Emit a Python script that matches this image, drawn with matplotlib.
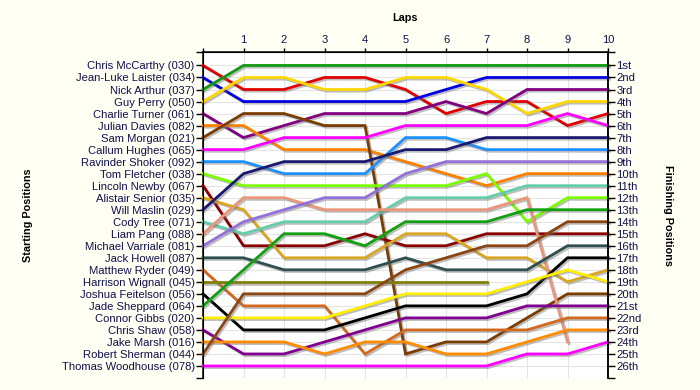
import matplotlib
matplotlib.use('Agg')
import matplotlib.pyplot as plt
import matplotlib.patheffects as pe

laps = list(range(11))

drivers = ['Chris McCarthy (030)', 'Jean-Luke Laister (034)', 'Nick Arthur (037)',
           'Guy Perry (050)', 'Charlie Turner (061)', 'Julian Davies (082)',
           'Sam Morgan (021)', 'Callum Hughes (065)', 'Ravinder Shoker (092)',
           'Tom Fletcher (038)', 'Lincoln Newby (067)', 'Alistair Senior (035)',
           'Will Maslin (029)', 'Cody Tree (071)', 'Liam Pang (088)',
           'Michael Varriale (081)', 'Jack Howell (087)', 'Matthew Ryder (049)',
           'Harrison Wignall (045)', 'Joshua Feitelson (056)', 'Jade Sheppard (064)',
           'Connor Gibbs (020)', 'Chris Shaw (058)', 'Jake Marsh (016)',
           'Robert Sherman (044)', 'Thomas Woodhouse (078)']

# race position at each lap (lap 0 = grid), shorter lists = retired
positions = [
    [1, 3, 3, 2, 2, 3, 5, 4, 4, 6, 5],
    [2, 4, 4, 4, 4, 4, 3, 2, 2, 2, 2],
    [3, 1, 1, 1, 1, 1, 1, 1, 1, 1, 1],
    [4, 2, 2, 3, 3, 2, 2, 3, 5, 4, 4],
    [5, 7, 6, 5, 5, 5, 4, 5, 3, 3, 3],
    [6, 6, 8, 8, 8, 9, 10, 11, 10, 10, 10],
    [7, 5, 5, 6, 6, 25, 24, 24, 22, 20, 20],
    [8, 8, 7, 7, 7, 6, 6, 6, 6, 5, 6],
    [9, 9, 10, 10, 10, 7, 7, 8, 8, 8, 8],
    [10, 11, 11, 11, 11, 11, 11, 10, 14, 12, 12],
    [11, 16, 16, 16, 15, 16, 16, 15, 15, 15, 15],
    [12, 13, 17, 17, 17, 15, 15, 17, 17, 19, 18],
    [13, 10, 9, 9, 9, 8, 8, 7, 7, 7, 7],
    [14, 15, 14, 14, 14, 12, 12, 12, 11, 11, 11],
    [15, 12, 12, 13, 13, 13, 13, 13, 12, 24],
    [16, 14, 13, 12, 12, 10, 9, 9, 9, 9, 9],
    [17, 17, 18, 18, 18, 17, 18, 18, 18, 16, 16],
    [18, 21, 21, 21, 25, 23, 23, 23, 23, 22, 22],
    [19, 19, 19, 19, 19, 19, 19, 19],
    [20, 23, 23, 23, 22, 21, 21, 21, 20, 17, 17],
    [21, 18, 15, 15, 16, 14, 14, 14, 13, 13, 13],
    [22, 22, 22, 22, 21, 20, 20, 20, 19, 18, 19],
    [23, 25, 25, 24, 23, 22, 22, 22, 21, 21, 21],
    [24, 24, 24, 25, 24, 24, 25, 25, 24, 23, 23],
    [25, 20, 20, 20, 20, 18, 17, 16, 16, 14, 14],
    [26, 26, 26, 26, 26, 26, 26, 26, 25, 25, 24],
]

finish_labels = ['1st', '2nd', '3rd'] + ['%dth' % i for i in range(4, 21)] + \
                ['21st', '22nd', '23rd', '24th', '25th', '26th']

colors = ['#e00000', '#0000e0', '#109910', '#ffd700', '#800080', '#ff8000',
          '#7a3c00', '#ff00ff', '#1e90ff', '#7cfc00', '#8b0000', '#daa520',
          '#191970', '#66cdaa', '#e9967a', '#9370db', '#2f4f4f', '#d2691e',
          '#808000', '#000000', '#10a010', '#ffee00', '#800090', '#ff8c00',
          '#8b4513', '#ff00ff']

plt.rcParams['font.family'] = ['Liberation Sans', 'DejaVu Sans']
txt = '#10104a'
ytop, ybot = -0.12, 27

fig = plt.figure(figsize=(7, 3.9), dpi=100, facecolor='#fffff4')
ax = fig.add_axes([203/700, 12/390, 405/700, 326/390])
ax.set_facecolor('white')

shadow = [pe.SimpleLineShadow(offset=(1.2, -1.2), shadow_color='#707070', alpha=0.45), pe.Normal()]
for pos, c in zip(positions, colors):
    ax.plot(laps[:len(pos)], pos, color=c, lw=2.0, solid_joinstyle='miter',
            path_effects=shadow, clip_on=False, zorder=3)

ax.set_xlim(0, 10)
ax.set_ylim(ybot, ytop)
ax.xaxis.tick_top()
ax.set_xticks(laps, [''] + [str(i) for i in laps[1:]])
ax.set_yticks([ytop] + list(range(1, 27)) + [ybot], [''] + drivers + [''])
ax.tick_params(axis='x', length=3, width=1, pad=2, labelsize=8, labelcolor=txt)
ax.tick_params(axis='y', length=5, width=1, pad=1, labelsize=8.1, labelcolor=txt)
ax.grid(color='#e4e4e4', lw=0.8, zorder=0)
ax.spines['bottom'].set_visible(False)
for s in ['top', 'left', 'right']:
    ax.spines[s].set_linewidth(1.1)

ax2 = ax.twinx()
ax2.set_ylim(ybot, ytop)
ax2.set_yticks([ytop] + list(range(1, 27)) + [ybot], [''] + finish_labels + [''])
ax2.tick_params(axis='y', length=5, width=1, pad=1, labelsize=8.1, labelcolor=txt)
ax2.spines['bottom'].set_visible(False)
ax2.spines['right'].set_linewidth(1.1)

fig.text(405/700, 1 - 18/390, 'Laps', ha='center', va='center', weight='bold', size=7.8)
fig.text(28/700, 1 - 215/390, 'Starting Positions', ha='center', va='center',
         weight='bold', size=7.8, rotation=90)
fig.text(668/700, 1 - 215/390, 'Finishing Positions', ha='center', va='center',
         weight='bold', size=7.8, rotation=270)

fig.savefig('out.png', dpi=100, facecolor=fig.get_facecolor())
